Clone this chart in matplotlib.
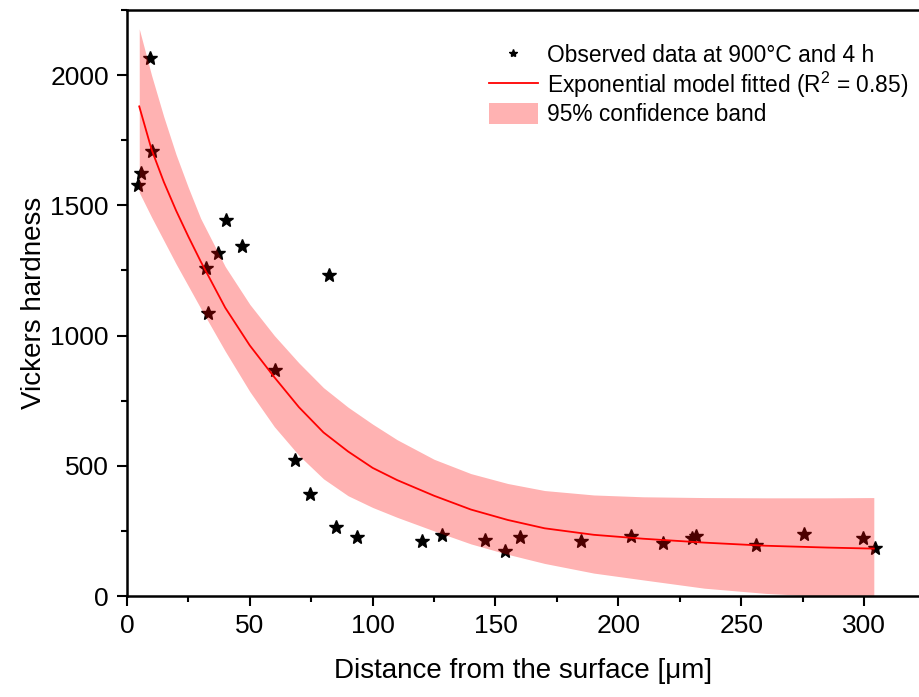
import numpy as np
import matplotlib
matplotlib.use('Agg')
import matplotlib.pyplot as plt

plt.rcParams['font.family'] = ['Liberation Sans', 'DejaVu Sans']
plt.rcParams['mathtext.fontset'] = 'custom'
plt.rcParams['mathtext.rm'] = 'Liberation Sans'
plt.rcParams['mathtext.it'] = 'Liberation Sans:italic'

# observed hardness points (distance in um, HV)
obs_x = [4.6, 5.6, 9.5, 10.2, 32.3, 32.9, 36.9, 40.5, 47.0, 60.2, 68.3, 74.4,
         82.3, 85.2, 93.5, 120.0, 128.2, 145.7, 153.7, 159.8, 185.0, 205.3,
         218.0, 230.0, 231.6, 256.0, 275.7, 299.7, 304.3]
obs_y = [1580, 1626, 2067, 1707, 1258, 1085, 1317, 1442, 1345, 866, 521, 393,
         1233, 264, 226, 212, 235, 216, 174, 227, 210, 232,
         202, 224, 231, 194, 237, 223, 184]

# fitted curve and 95% band
fit_x = [5, 10, 15, 20, 25, 30, 40, 50, 60, 70, 80, 90, 100, 110, 125, 140,
         155, 170, 190, 210, 235, 260, 285, 304]
fit_y = [1880, 1715, 1590, 1480, 1380, 1285, 1107, 962, 840, 725, 628, 555,
         492, 445, 385, 332, 292, 260, 235, 220, 205, 193, 186, 182]
band_hi = [2178, 2000, 1840, 1695, 1568, 1450, 1265, 1120, 1000, 895, 800,
           725, 660, 600, 525, 470, 432, 405, 388, 381, 378, 377, 377, 378]
band_lo = [1550, 1455, 1365, 1275, 1190, 1105, 940, 785, 650, 540, 450, 385,
           340, 302, 250, 200, 160, 125, 88, 62, 30, 10, -2, -14]

fig = plt.figure(figsize=(9.2, 6.97), dpi=100)
ax = fig.add_axes([0.138, 0.1449, 0.862, 0.8407])

ax.plot(obs_x, obs_y, linestyle='none', marker='*', color='black',
        markersize=10, zorder=1, label='Observed data at 900°C and 4 h')
ax.fill_between(fit_x, band_lo, band_hi, color='red', alpha=0.3, linewidth=0,
                zorder=2, label='95% confidence band')
ax.plot(fit_x, fit_y, color='red', linewidth=1.3, zorder=3,
        label='Exponential model fitted (R$^{2}$ = 0.85)')

ax.set_xlim(0, 322.8)
ax.set_ylim(0, 2222)
ax.set_xticks(np.arange(0, 301, 50))
ax.set_xticks(np.arange(25, 321, 50), minor=True)
ax.set_yticks(np.arange(0, 2001, 500))
ax.set_yticks(np.arange(250, 2251, 500), minor=True)

for s in ['left', 'bottom', 'top']:
    ax.spines[s].set_linewidth(1.8)
ax.spines['right'].set_visible(False)
ax.tick_params(which='major', direction='out', length=7, width=1.5,
               labelsize=19, pad=6)
ax.tick_params(which='minor', direction='out', length=4, width=1.5)
ax.tick_params(top=False, right=False)

ax.set_xlabel('Distance from the surface [μm]', fontsize=20, labelpad=14)
ax.set_ylabel('Vickers hardness', fontsize=20, labelpad=2.5)

h, l = ax.get_legend_handles_labels()
order = [0, 2, 1]
fig.legend([h[i] for i in order], [l[i] for i in order], loc='upper left',
           bbox_to_anchor=(0.5315, 0.938), frameon=False, fontsize=16.4,
           markerscale=0.6, handlelength=2.15, handletextpad=0.4,
           handleheight=1.1, labelspacing=0.12, borderpad=0, borderaxespad=0)

fig.savefig('out.png', dpi=100)
